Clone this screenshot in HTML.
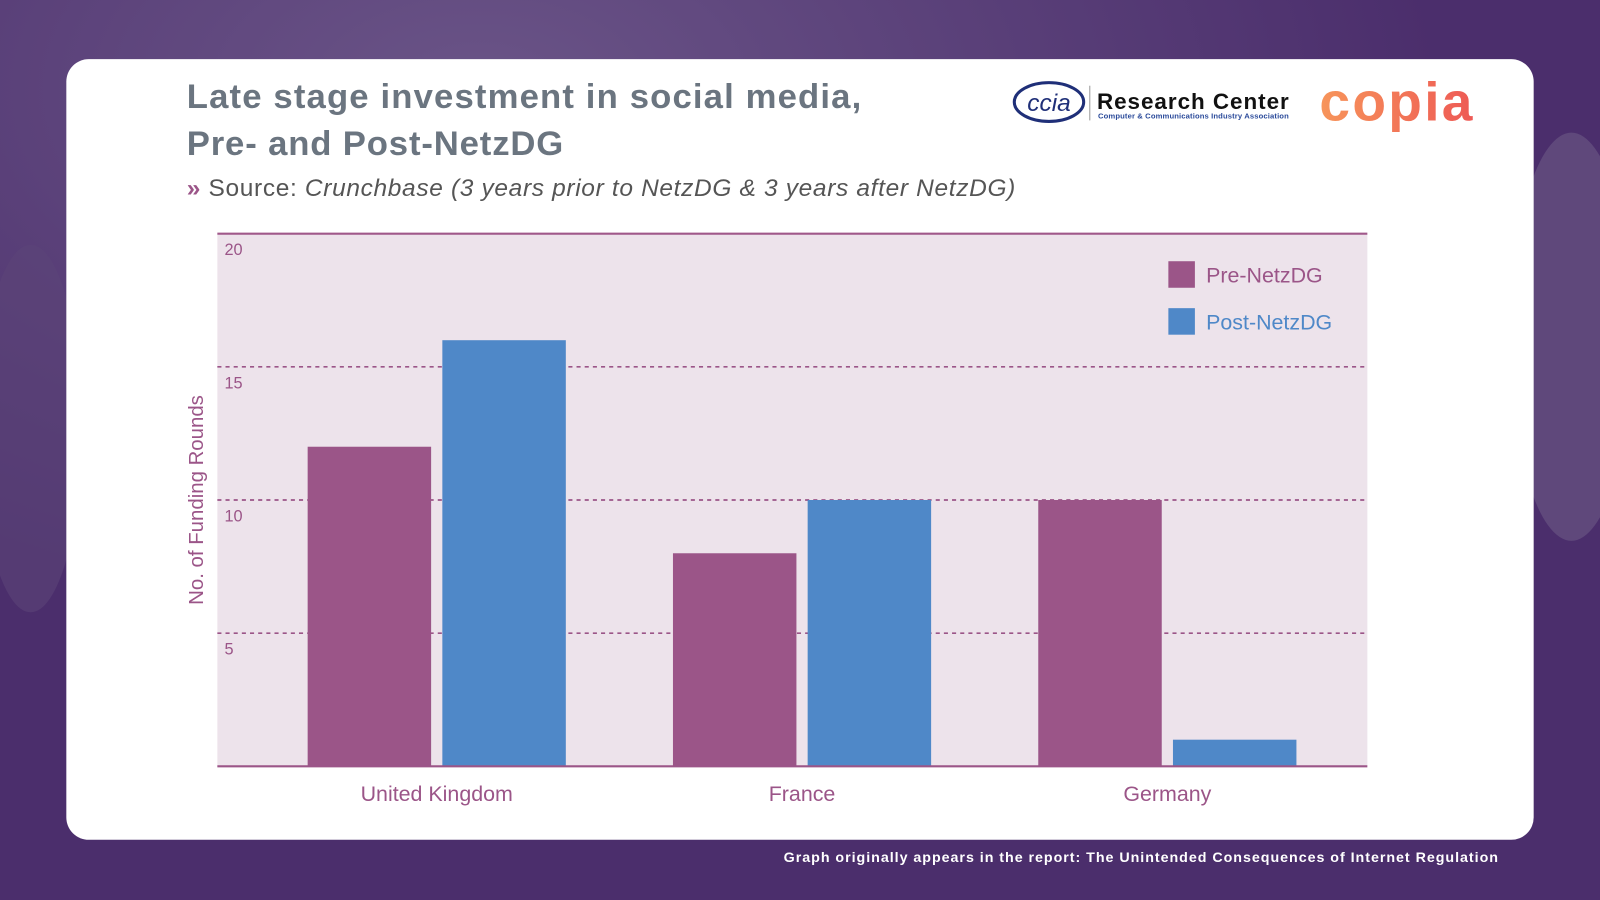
<!DOCTYPE html>
<html><head><meta charset="utf-8"><style>
html,body{margin:0;padding:0;width:1600px;height:900px;overflow:hidden;background:#4b2e6c}
svg{display:block}
text{font-family:"Liberation Sans",sans-serif}
</style></head><body>
<svg id="chart" width="1600" height="900" viewBox="0 0 1568 882" xmlns="http://www.w3.org/2000/svg">
<defs>
<radialGradient id="bg1" cx="0.3" cy="0.1" r="0.6"><stop offset="0" stop-color="#6a5487"/><stop offset="1" stop-color="#4b2e6c"/></radialGradient>
<linearGradient id="cop" x1="0" x2="1"><stop offset="0" stop-color="#f7955a"/><stop offset="1" stop-color="#ee5a55"/></linearGradient>
</defs>
<rect x="0" y="0" width="1568" height="882" fill="url(#bg1)"/>
<ellipse cx="1540" cy="330" rx="60" ry="200" fill="#6c5a86" opacity="0.6"/>
<ellipse cx="30" cy="420" rx="50" ry="180" fill="#5b4578" opacity="0.6"/>
<rect x="65" y="58" width="1438" height="765" rx="22" fill="#ffffff"/>
<text x="183" y="106" font-size="34" font-weight="bold" fill="#6b7580" textLength="661">Late stage investment in social media,</text>
<text x="183" y="152" font-size="34" font-weight="bold" fill="#6b7580" textLength="369">Pre- and Post-NetzDG</text>
<text x="183" y="192" font-size="24" fill="#555" textLength="812"><tspan fill="#9b5588" font-weight="bold">»</tspan> Source: <tspan font-style="italic">Crunchbase (3 years prior to NetzDG &amp; 3 years after NetzDG)</tspan></text>
<g>
<ellipse cx="1028" cy="100" rx="34" ry="19" fill="none" stroke="#1f2f78" stroke-width="3"/>
<text x="1028" y="109" font-size="24" font-style="italic" font-family="Liberation Serif,serif" fill="#1f2f78" text-anchor="middle">ccia</text>
<line x1="1068" y1="84" x2="1068" y2="118" stroke="#999" stroke-width="1"/>
<text x="1075" y="107" font-size="22" font-weight="bold" fill="#111" textLength="188">Research Center</text>
<text x="1076" y="116" font-size="7.5" font-weight="bold" fill="#2a4a9a" textLength="187">Computer &amp; Communications Industry Association</text>
</g>
<text x="1293" y="118" font-size="54" font-weight="bold" fill="url(#cop)" textLength="150">copia</text>
<g id="plot"></g>
<text x="768" y="845" font-size="14" font-weight="bold" fill="#ffffff" textLength="700">Graph originally appears in the report: The Unintended Consequences of Internet Regulation</text>
</svg>
<script>
const categories = ["United Kingdom","France","Germany"];
const preValues = [12, 8, 10];
const postValues = [16, 10, 1];
const yTicks = [5, 10, 15, 20];
const seriesNames = ["Pre-NetzDG","Post-NetzDG"];

const NS="http://www.w3.org/2000/svg";
const g=document.getElementById('plot');
const L=213,R=1340,T=229,B=751,yMax=20;
const y=v=>B-(v/yMax)*(B-T);
const groupX=i=>428+i*358;
const barW=121, gap=11;
function mk(t,a){const e=document.createElementNS(NS,t);for(const k in a)e.setAttribute(k,a[k]);g.appendChild(e);return e;}
const bgRect=mk('rect',{x:L,y:T,width:R-L,height:B-T,fill:'#ede3eb'});


yTicks.forEach(t=>{
  if(t<yMax){const l=mk('line',{x1:L,x2:R,y1:y(t),y2:y(t),stroke:'#9b5588','stroke-width':1.6,'stroke-dasharray':'4 4'});
  
  }
  const tx=mk('text',{x:220,y:y(t)+21,'font-size':16,fill:'#9b5588'});tx.textContent=t;
  
  
});
categories.forEach((c,i)=>{
  const cx=groupX(i);
  const b1=mk('rect',{x:cx-gap/2-barW,y:y(preValues[i]),width:barW,height:B-y(preValues[i]),fill:'#9b5588'});
  
  
  const b2=mk('rect',{x:cx+gap/2,y:y(postValues[i]),width:barW,height:B-y(postValues[i]),fill:'#4f88c8'});
  
  
  const t=mk('text',{x:cx,y:785,'font-size':21,fill:'#9b5588','text-anchor':'middle'});t.textContent=c;
  
  
});
const topBorder=mk('line',{x1:L,x2:R,y1:T,y2:T,stroke:'#a0588a','stroke-width':2});


const xAxis=mk('line',{x1:L,x2:R,y1:B,y2:B,stroke:'#9b5588','stroke-width':2});


const yTitle=mk('text',{x:0,y:0,'font-size':20,fill:'#9b5588','text-anchor':'middle',transform:'translate(199,490) rotate(-90)'});
yTitle.textContent='No. of Funding Rounds';


const cols=['#9b5588','#4f88c8'];
seriesNames.forEach((n,i)=>{
  const sq=mk('rect',{x:1145,y:256+i*46,width:26,height:26,fill:cols[i]});
  
  
  const t=mk('text',{x:1182,y:277+i*46,'font-size':21,fill:cols[i]});t.textContent=n;
  
  
});
</script>
</body></html>
